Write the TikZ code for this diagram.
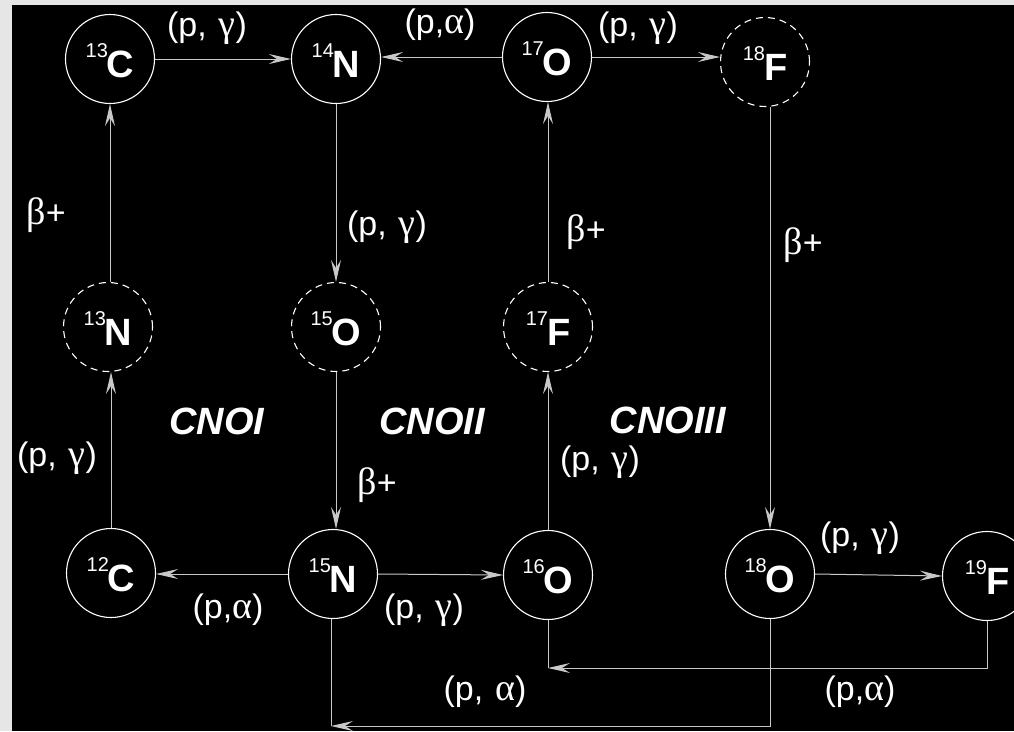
\documentclass[tikz,border=0pt]{standalone}
\usepackage{fontspec}
\setmainfont{Liberation Sans}
\newfontfamily\grk[Scale=1.12]{Liberation Serif}
\usetikzlibrary{arrows.meta}
\definecolor{bordergray}{HTML}{E6E6E6}
\definecolor{linegray}{HTML}{C8C8C8}
\newcommand\iso[2]{\raisebox{-18pt}{\fontsize{20}{20}\selectfont\raisebox{20pt}{#1}\kern-1pt\fontsize{38}{38}\selectfont\bfseries #2}}
\newcommand\gam{{\grk γ}}
\newcommand\alp{{\grk α}}
\newcommand\bet{{\grk β}}
\newcommand\sep{\hspace{0.35em}}
\tikzset{
 iso/.style={circle, draw=white, line width=1.1pt, minimum size=89pt, inner sep=0pt, text=white, text height=0pt, text depth=0pt},
 isod/.style={iso, dash pattern=on 7pt off 5pt},
 conn/.style={draw=linegray, line width=1pt, -{Stealth[length=22pt,width=10pt,inset=8pt]}},
 plain/.style={draw=linegray, line width=1pt},
 lab/.style={text=white, font=\fontsize{34}{34}\selectfont, inner sep=0pt},
 cno/.style={text=white, font=\fontsize{38}{38}\selectfont\bfseries\itshape, inner sep=0pt}
}
\begin{document}
\begin{tikzpicture}[x=1pt,y=-1pt]
\useasboundingbox (0,0) rectangle (1014,731);
\clip (0,0) rectangle (1014,731);
\fill[bordergray] (0,0) rectangle (1014,731);
\fill[black] (12,5) rectangle (1014,731);
% nodes
\node[iso]  (c13) at (110,59)  {\iso{13}{C}};
\node[iso]  (n14) at (336,59)  {\iso{14}{N}};
\node[iso]  (o17) at (547,57)  {\iso{17}{O}};
\node[isod] (f18) at (765,62)  {\iso{18}{F}};
\node[isod] (n13) at (108,327) {\iso{13}{N}};
\node[isod] (o15) at (336,327) {\iso{15}{O}};
\node[isod] (f17) at (548,327) {\iso{17}{F}};
\node[iso]  (c12) at (111,573) {\iso{12}{C}};
\node[iso]  (n15) at (333,574) {\iso{15}{N}};
\node[iso]  (o16) at (548,575) {\iso{16}{O}};
\node[iso]  (o18) at (770,574) {\iso{18}{O}};
\node[iso]  (f19) at (987,576) {\iso{19}{F}};
% connectors
\draw[conn] (c13.east) -- (n14.west);
\draw[conn] (o17.west) -- (o17.west -| n14.east);
\draw[conn] (o17.east) -- (o17.east -| f18.west);
\draw[conn] (n13.north -| c13.south) -- (c13.south);
\draw[conn] (c12.north) -- (c12.north |- n13.south);
\draw[conn] (n14.south) -- (o15.north);
\draw[conn] (o15.south) -- (o15.south |- n15.north);
\draw[conn] (n15.west) -- (n15.west -| c12.east);
\draw[conn] (n15.east) -- (o16.west);
\draw[conn] (o16.north) -- (f17.south);
\draw[conn] (f17.north) -- (o17.south -| f17.north);
\draw[conn] (f18.south -| o18.north) -- (o18.north);
\draw[conn] (o18.east) -- (f19.west);
\coordinate (k1) at (548,668);
\coordinate (k2) at (331,726);
\draw[conn] (f19.south) |- (k1);
\draw[plain] (k1) -- (o16.south);
\draw[conn] (o18.south) |- (k2);
\draw[plain] (k2) -- (k2 |- n15.south);
% labels
\node[lab] (l1) at (207,28) {(p,\sep\gam)};
\node[lab] (l2) at (440,25) {(p,\alp)};
\node[lab] (l3) at (638,28) {(p,\sep\gam)};
\node[lab] (l4) at (46,215) {\bet+};
\node[lab] (l5) at (387,227) {(p,\sep\gam)};
\node[lab] (l6) at (586,232) {\bet+};
\node[lab] (l7) at (803,245) {\bet+};
\node[lab] (l8) at (57,458) {(p,\sep\gam)};
\node[lab] (l9) at (377,485) {\bet+};
\node[lab] (l10) at (600,462) {(p,\sep\gam)};
\node[lab] (l11) at (228,610) {(p,\alp)};
\node[lab] (l12) at (424,610) {(p,\sep\gam)};
\node[lab] (l13) at (860,538) {(p,\sep\gam)};
\node[lab] (l14) at (485,692) {(p,\sep\alp)};
\node[lab] (l15) at (860,692) {(p,\alp)};
\node[cno] (t1) at (217,421) {CNOI};
\node[cno] (t2) at (432,421) {CNOII};
\node[cno] (t3) at (668,420) {CNOIII};
\end{tikzpicture}
\end{document}
